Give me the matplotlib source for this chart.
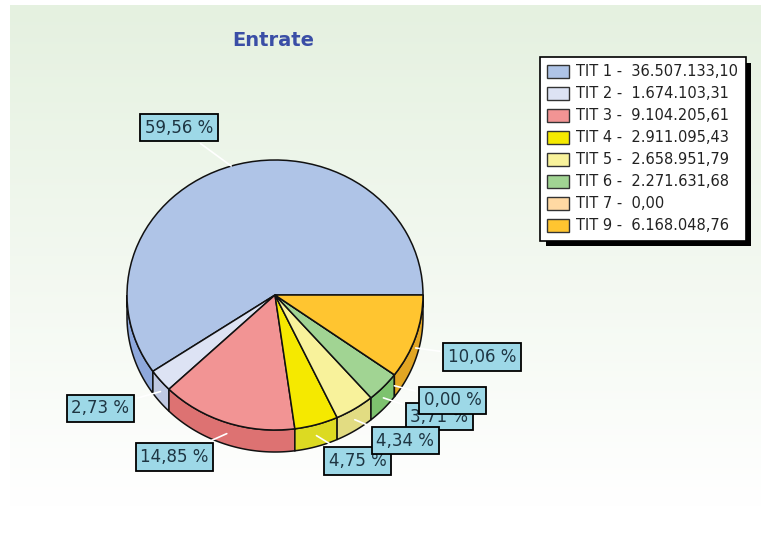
import numpy as np
import matplotlib.pyplot as plt
from matplotlib.patches import Polygon, Patch
import matplotlib.patheffects as pe

# data
names = ['TIT 1', 'TIT 2', 'TIT 3', 'TIT 4', 'TIT 5', 'TIT 6', 'TIT 7', 'TIT 9']
values = [36507133.10, 1674103.31, 9104205.61, 2911095.43, 2658951.79, 2271631.68, 0.00, 6168048.76]
top_colors = ['#AFC4E7', '#DDE3F4', '#F29494', '#F5E900', '#F8F29B', '#A1D493', '#FFD9A3', '#FFC530']
side_colors = ['#8EA8DC', '#BFC8E2', '#DD7272', '#DCDA22', '#E2DC82', '#7DC26E', '#E8B880', '#E2A624']

# label box centres (in pie units) and stacking order
label_pos = [(-0.65, 1.24), (-1.18, -0.84), (-0.68, -1.20), (0.56, -1.23),
             (0.88, -1.08), (1.11, -0.90), (1.20, -0.78), (1.40, -0.46)]
label_z = [5, 5, 5, 5, 7, 5, 8, 5]


def it_fmt(v):
    s = f'{v:,.2f}'
    return s.replace(',', 'X').replace('.', ',').replace('X', '.')


W, H = 761, 538
fig = plt.figure(figsize=(W / 100, H / 100), dpi=100)

# background gradient
bg = fig.add_axes([0, 0, 1, 1])
grad = np.linspace(0, 1, 256)[:, None, None]
top = np.array([229, 241, 224]) / 255
img = top * (1 - grad) + grad
bg.imshow(img, aspect='auto', extent=[10, W, 507, 5])
bg.set_xlim(0, W)
bg.set_ylim(H, 0)
bg.axis('off')

# pie axes, slightly squashed vertically
cx, cy, rx, ry = 275, 295, 148, 135
x0, x1, y0, y1 = -1.5, 1.75, -1.6, 1.45
ax = fig.add_axes([(cx + x0 * rx) / W, (H - cy + y0 * ry) / H,
                   (x1 - x0) * rx / W, (y1 - y0) * ry / H])
wedges, _ = ax.pie(values, colors=top_colors, startangle=0, counterclock=True,
                   wedgeprops=dict(edgecolor='#111111', linewidth=1.1, zorder=3))
ax.set_aspect('auto')
ax.set_xlim(x0, x1)
ax.set_ylim(y0, y1)
ax.axis('off')

# side walls of the front half
d = 22 / ry
for w, sc in zip(wedges, side_colors):
    a, b = max(w.theta1, 180), min(w.theta2, 360)
    if b <= a:
        continue
    t = np.radians(np.linspace(a, b, 80))
    xs, ys = np.cos(t), np.sin(t)
    poly = np.vstack([np.column_stack([xs, ys]),
                      np.column_stack([xs[::-1], ys[::-1] - d])])
    ax.add_patch(Polygon(poly, closed=True, facecolor=sc, edgecolor='#111111',
                         lw=1.1, zorder=2))

# percentage labels
total = sum(values)
for i, (w, v) in enumerate(zip(wedges, values)):
    m = np.radians((w.theta1 + w.theta2) / 2)
    px, py = np.cos(m), np.sin(m)
    if py < 0:
        py -= d * 0.5
    txt = f'{v / total * 100:.2f} %'.replace('.', ',')
    ax.annotate(txt, xy=(px, py), xytext=label_pos[i], ha='center', va='center',
                fontsize=12, color='#1E3542',
                bbox=dict(boxstyle='square,pad=0.28', fc='#9DD8E7', ec='black', lw=1.3),
                arrowprops=dict(arrowstyle='-', color='white', lw=1.2, shrinkB=0),
                zorder=label_z[i], annotation_clip=False)

fig.text(273 / W, 1 - 40 / H, 'Entrate', ha='center', va='center',
         fontsize=14, fontweight='bold', color='#3A4EA6')

# legend with hard black shadow
handles = [Patch(facecolor=c, edgecolor='#333333', lw=1) for c in top_colors]
leg_labels = [f'{n} -  {it_fmt(v)}' for n, v in zip(names, values)]
leg = fig.legend(handles, leg_labels, loc='upper left',
                 bbox_to_anchor=(540 / W, 1 - 57 / H), borderaxespad=0,
                 fancybox=False, edgecolor='black', framealpha=1, fontsize=10.5,
                 handlelength=1.5, handleheight=1.0, handletextpad=0.5,
                 labelspacing=0.48, borderpad=0.5)
leg.get_frame().set_linewidth(1.2)
leg.get_frame().set_path_effects([pe.SimplePatchShadow(offset=(4, -4), shadow_rgbFace='black', alpha=1),
                                  pe.Normal()])
for t in leg.get_texts():
    t.set_color('#222222')

fig.savefig('out.png', dpi=100)
